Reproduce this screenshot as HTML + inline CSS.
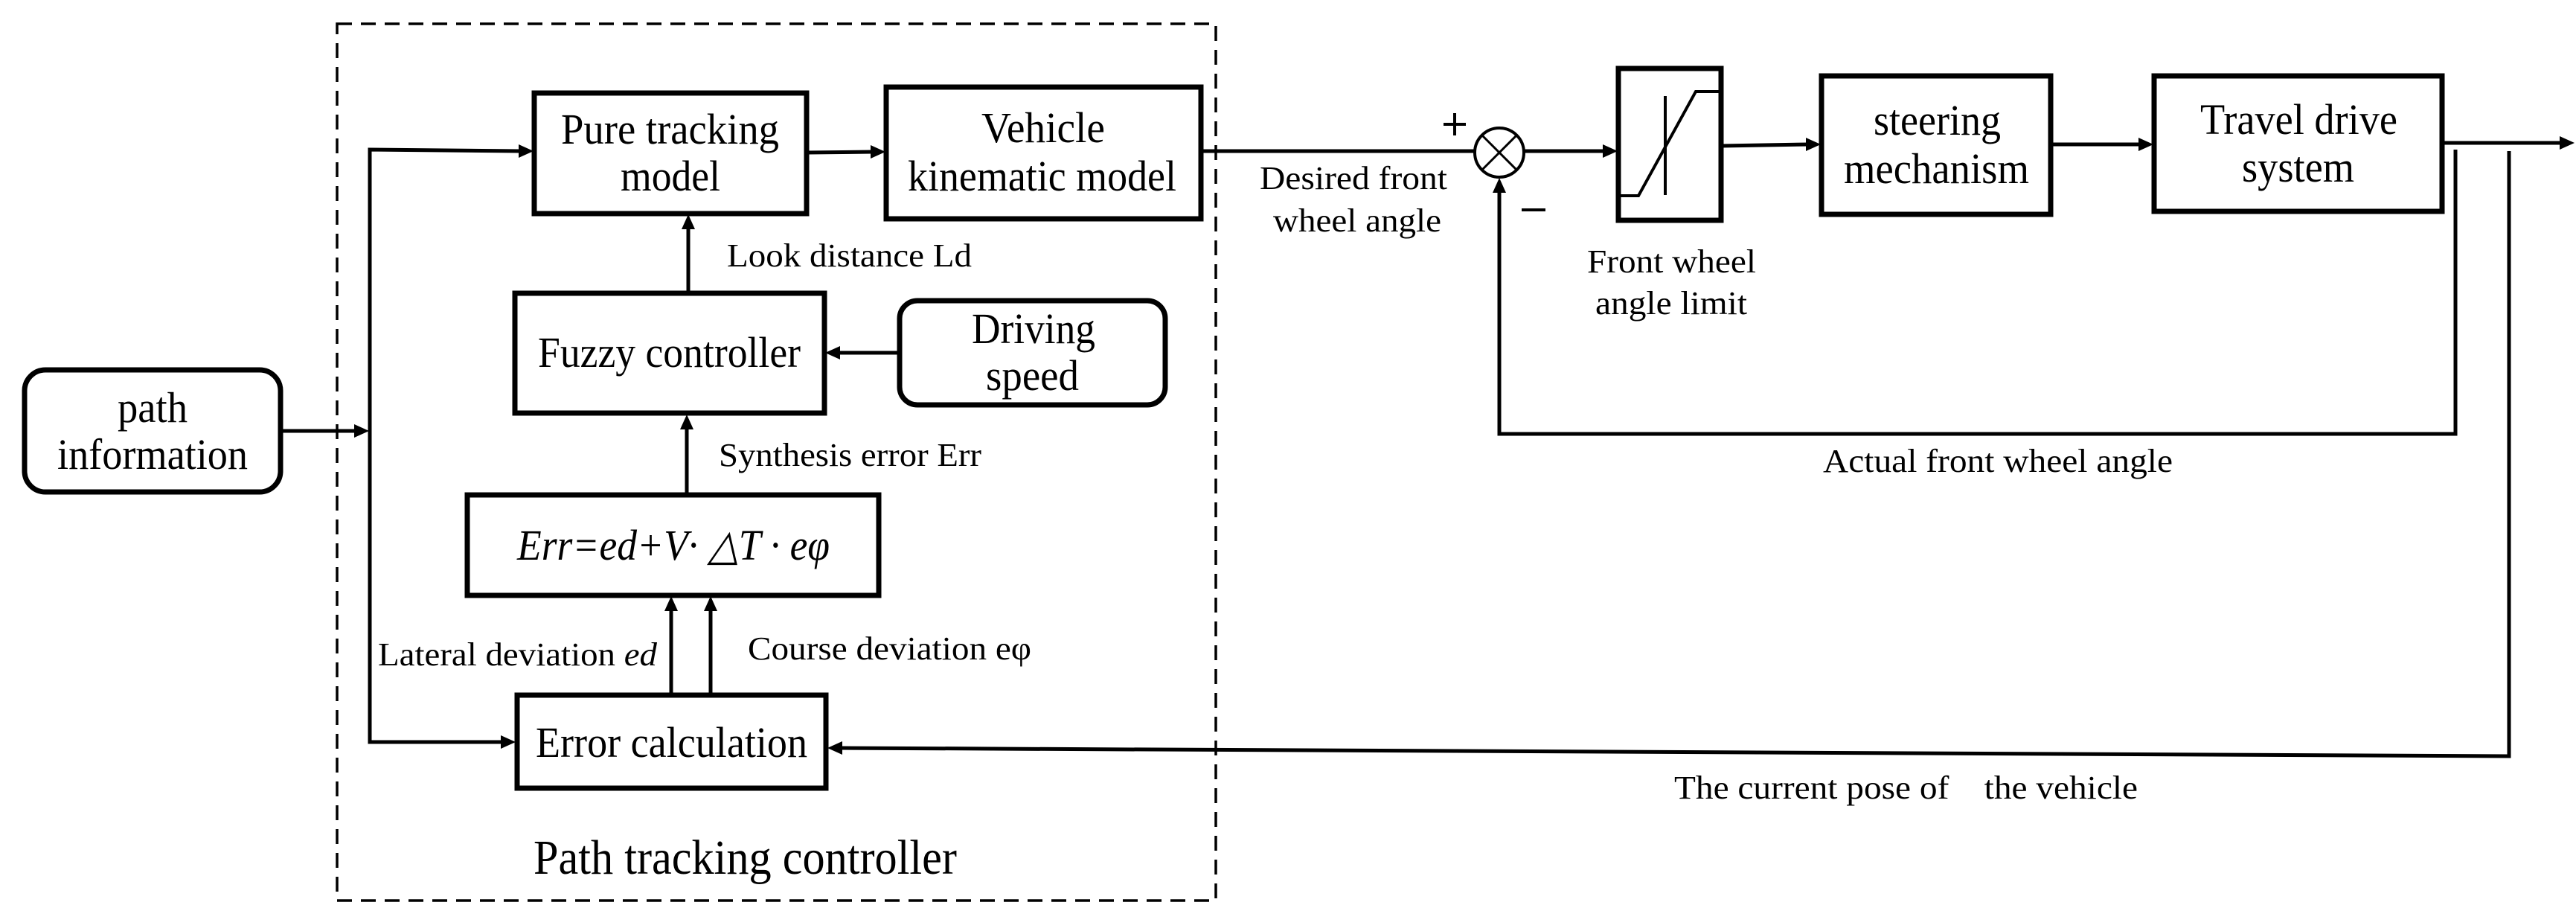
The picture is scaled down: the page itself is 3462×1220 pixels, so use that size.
<!DOCTYPE html>
<html><head><meta charset="utf-8"><style>
html,body{margin:0;padding:0;background:#fff;}
svg{display:block;}
text{font-family:"Liberation Serif",serif;fill:#000;}
</style></head><body>
<svg width="3462" height="1220" viewBox="0 0 3462 1220" xmlns="http://www.w3.org/2000/svg">
<g fill="none" stroke="#000">
<rect x="453" y="32" width="1181" height="1178" stroke-width="3.5" stroke-dasharray="20,12"/>
<g stroke-width="7">
<rect x="33" y="497" width="344" height="164" rx="28"/>
<rect x="718" y="125" width="366" height="162"/>
<rect x="1191" y="117" width="423" height="177"/>
<rect x="692" y="394" width="416" height="161"/>
<rect x="1209" y="404" width="357" height="140" rx="24"/>
<rect x="628" y="665" width="553" height="135"/>
<rect x="695" y="934" width="415" height="125"/>
<rect x="2175" y="92" width="138" height="204"/>
<rect x="2448" y="102" width="308" height="186"/>
<rect x="2895" y="102" width="387" height="182"/>
</g>
<polyline points="2178,263 2202,263 2279,123 2313,123" stroke-width="4"/>
<line x1="2238" y1="129" x2="2238" y2="262" stroke-width="4"/>
<circle cx="2015" cy="205" r="33" stroke-width="4"/>
<line x1="1992" y1="182" x2="2038" y2="228" stroke-width="3"/>
<line x1="2038" y1="182" x2="1992" y2="228" stroke-width="3"/>
<g stroke-width="5">
<line x1="377" y1="579" x2="484" y2="579"/>
<polyline points="700,203 497,201 497,997 676,997"/>
<line x1="1084" y1="205" x2="1174" y2="204"/>
<line x1="1614" y1="203" x2="1982" y2="203"/>
<line x1="2048" y1="203" x2="2158" y2="203"/>
<line x1="2313" y1="196" x2="2430" y2="194"/>
<line x1="2756" y1="194" x2="2877" y2="194"/>
<line x1="3282" y1="192" x2="3442" y2="192"/>
<polyline points="3300,201 3300,583 2015,583 2015,255"/>
<polyline points="3372,203 3372,1016 1130,1005"/>
<line x1="925" y1="394" x2="925" y2="306"/>
<line x1="923" y1="665" x2="923" y2="575"/>
<line x1="902" y1="934" x2="902" y2="818"/>
<line x1="955" y1="934" x2="955" y2="818"/>
<line x1="1209" y1="474" x2="1126" y2="474"/>
</g>
</g>
<g fill="#000">
<polygon points="496,579 476,570 476,588"/>
<polygon points="717,203 697,194 697,212"/>
<polygon points="693,997 673,988 673,1006"/>
<polygon points="1190,204 1170,195 1170,213"/>
<polygon points="2174,203 2154,194 2154,212"/>
<polygon points="2447,194 2427,185 2427,203"/>
<polygon points="2894,194 2874,185 2874,203"/>
<polygon points="3460,192 3440,183 3440,201"/>
<polygon points="2015,239 2006,259 2024,259"/>
<polygon points="1112,1005 1132,996 1132,1014"/>
<polygon points="925,288 916,308 934,308"/>
<polygon points="923,557 914,577 932,577"/>
<polygon points="902,801 893,821 911,821"/>
<polygon points="955,801 946,821 964,821"/>
<polygon points="1109,474 1129,465 1129,483"/>
</g>
<g font-size="58">
<text x="754" y="193" textLength="293" lengthAdjust="spacingAndGlyphs">Pure tracking</text>
<text x="834" y="256" textLength="134" lengthAdjust="spacingAndGlyphs">model</text>
<text x="1319" y="191" textLength="166" lengthAdjust="spacingAndGlyphs">Vehicle</text>
<text x="1220" y="256" textLength="361" lengthAdjust="spacingAndGlyphs">kinematic model</text>
<text x="723" y="493" textLength="353" lengthAdjust="spacingAndGlyphs">Fuzzy controller</text>
<text x="1306" y="461" textLength="166" lengthAdjust="spacingAndGlyphs">Driving</text>
<text x="1325" y="524" textLength="125" lengthAdjust="spacingAndGlyphs">speed</text>
<text x="158" y="567" textLength="94" lengthAdjust="spacingAndGlyphs">path</text>
<text x="77" y="630" textLength="256" lengthAdjust="spacingAndGlyphs">information</text>
<text x="695" y="752" textLength="420" lengthAdjust="spacingAndGlyphs" font-style="italic">Err=ed+V· △T · eφ</text>
<text x="720" y="1017" textLength="365" lengthAdjust="spacingAndGlyphs">Error calculation</text>
<text x="2518" y="181" textLength="171" lengthAdjust="spacingAndGlyphs">steering</text>
<text x="2478" y="246" textLength="249" lengthAdjust="spacingAndGlyphs">mechanism</text>
<text x="2957" y="180" textLength="265" lengthAdjust="spacingAndGlyphs">Travel drive</text>
<text x="3013" y="244" textLength="151" lengthAdjust="spacingAndGlyphs">system</text>
</g>
<g font-size="44">
<text x="977" y="358" textLength="329" lengthAdjust="spacingAndGlyphs">Look distance Ld</text>
<text x="966" y="626" textLength="353" lengthAdjust="spacingAndGlyphs">Synthesis error Err</text>
<text x="508" y="894" textLength="375" lengthAdjust="spacingAndGlyphs">Lateral deviation <tspan font-style="italic">ed</tspan></text>
<text x="1005" y="886" textLength="381" lengthAdjust="spacingAndGlyphs">Course deviation eφ</text>
<text x="1693" y="254" textLength="252" lengthAdjust="spacingAndGlyphs">Desired front</text>
<text x="1711" y="311" textLength="226" lengthAdjust="spacingAndGlyphs">wheel angle</text>
<text x="2133" y="366" textLength="227" lengthAdjust="spacingAndGlyphs">Front wheel</text>
<text x="2144" y="422" textLength="204" lengthAdjust="spacingAndGlyphs">angle limit</text>
<text x="2450" y="634" textLength="470" lengthAdjust="spacingAndGlyphs">Actual front wheel angle</text>
<text x="2250" y="1073" textLength="623" lengthAdjust="spacingAndGlyphs" xml:space="preserve">The current pose of    the vehicle</text>
</g>
<text x="717" y="1174" font-size="66" textLength="569" lengthAdjust="spacingAndGlyphs">Path tracking controller</text>
<line x1="1940" y1="167" x2="1970" y2="167" stroke="#000" stroke-width="4"/>
<line x1="1955" y1="152" x2="1955" y2="182" stroke="#000" stroke-width="4"/>
<line x1="2045" y1="282" x2="2077" y2="282" stroke="#000" stroke-width="4"/>
</svg>
</body></html>
